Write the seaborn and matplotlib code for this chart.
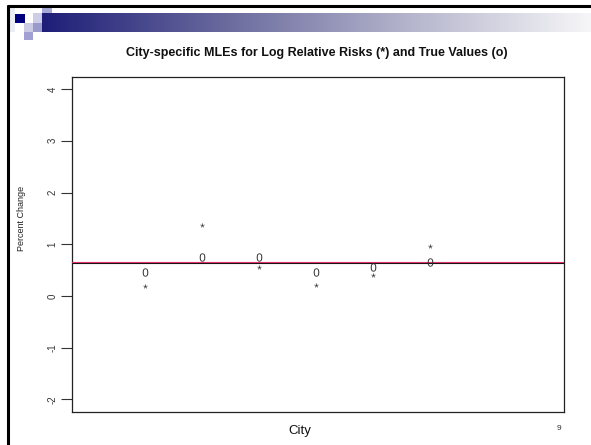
import numpy as np
import pandas as pd
import matplotlib
matplotlib.use('Agg')
import matplotlib.pyplot as plt
from matplotlib.patches import Rectangle
from matplotlib.lines import Line2D
from matplotlib.colors import LinearSegmentedColormap
import seaborn as sns

# values
cities = [1, 2, 3, 4, 5, 6]
mle_values = [0.20, 1.38, 0.56, 0.21, 0.41, 0.97]   # the '*' marks
true_values = [0.47, 0.76, 0.76, 0.46, 0.56, 0.65]  # the 'o' marks
pooled_line = 0.65
y_ticks = [-2, -1, 0, 1, 2, 3, 4]

sns.set_style('ticks')
plt.rcParams['font.family'] = ['Liberation Sans', 'DejaVu Sans']
plt.rcParams['mathtext.fontset'] = 'custom'
plt.rcParams['mathtext.rm'] = 'Liberation Sans'
plt.rcParams['mathtext.it'] = 'Liberation Sans'

W, H = 591, 445
fig = plt.figure(figsize=(W / 100, H / 100), dpi=100)
fig.patch.set_facecolor('white')


def px_rect(x0, y0, x1, y1, color):
    fig.add_artist(Rectangle((x0 / W, 1 - y1 / H), (x1 - x0) / W, (y1 - y0) / H,
                             transform=fig.transFigure, facecolor=color,
                             edgecolor='none', zorder=1))


# slide decoration: gradient bar and small squares
bar_ax = fig.add_axes([42 / W, 1 - 32 / H, (W - 42) / W, 19 / H])
grad_cmap = LinearSegmentedColormap.from_list(
    'bar', ['#1e1e78', '#6a6a9e', '#b4b4cc', '#f6f6f8'])
bar_ax.imshow(np.linspace(0, 1, 256)[None, :], aspect='auto', cmap=grad_cmap)
bar_ax.axis('off')

px_rect(9, 8, 15, 32, '#ececf5')
px_rect(15, 14, 25, 23, '#00007f')
px_rect(33, 13, 42, 23, '#cdcde8')
px_rect(42, 7, 52, 13, '#a8a8d6')
px_rect(24, 23, 33, 32, '#cbcbe6')
px_rect(33, 23, 42, 32, '#9a9acd')
px_rect(24, 32, 33, 40, '#a0a0d2')

# slide frame
fig.add_artist(Line2D([8 / W, 1], [1 - 6 / H, 1 - 6 / H], transform=fig.transFigure,
                      color='black', lw=2.2))
fig.add_artist(Line2D([8 / W, 8 / W], [0, 1 - 6 / H], transform=fig.transFigure,
                      color='black', lw=2.2))

# main plot
ax = fig.add_axes([71.7 / W, 1 - 411.7 / H, (564 - 71.7) / W, (411.7 - 76.7) / H])
df = pd.DataFrame({'city': cities, 'mle': mle_values, 'truth': true_values})

ax.axhline(pooled_line - 0.012, color='#111111', lw=0.8, zorder=2)
ax.axhline(pooled_line + 0.010, color='#e0306a', lw=0.8, zorder=3)

sns.scatterplot(data=df, x='city', y='truth', marker='$0$', s=36, color='#333333',
                linewidth=0, ax=ax, zorder=4)
sns.scatterplot(data=df, x='city', y='mle', marker='$*$', s=9, color='#333333',
                linewidth=0, ax=ax, zorder=4)

ax.set_xlim(-0.28, 8.34)
ax.set_ylim(-2.24, 4.24)
ax.set_xticks([])
ax.set_yticks(y_ticks)
ax.set_yticklabels([str(t) for t in y_ticks], rotation=90, va='center',
                   fontsize=7, color='#333333')
ax.tick_params(axis='y', length=8, width=0.8, pad=2, colors='#333333',
               labelcolor='#333333')
ax.set_xlabel('')
ax.set_ylabel('')
for sp in ax.spines.values():
    sp.set_visible(True)
    sp.set_color('#222222')
    sp.set_linewidth(0.9)

# slide texts
fig.text(317 / W, 1 - 53 / H,
         'City-specific MLEs for Log Relative Risks (*) and True Values (o)',
         ha='center', va='center', fontsize=9, fontweight='bold', color='#111111')
fig.text(22 / W, 1 - 218 / H, 'Percent Change', rotation=90, ha='center',
         va='center', fontsize=6.5, color='#222222')
fig.text(300 / W, 1 - 431 / H, 'City', ha='center', va='center', fontsize=9.5,
         color='#111111')
fig.text(559 / W, 1 - 429 / H, '9', ha='center', va='center', fontsize=6,
         color='#333333')

fig.savefig('out.png', dpi=100)
